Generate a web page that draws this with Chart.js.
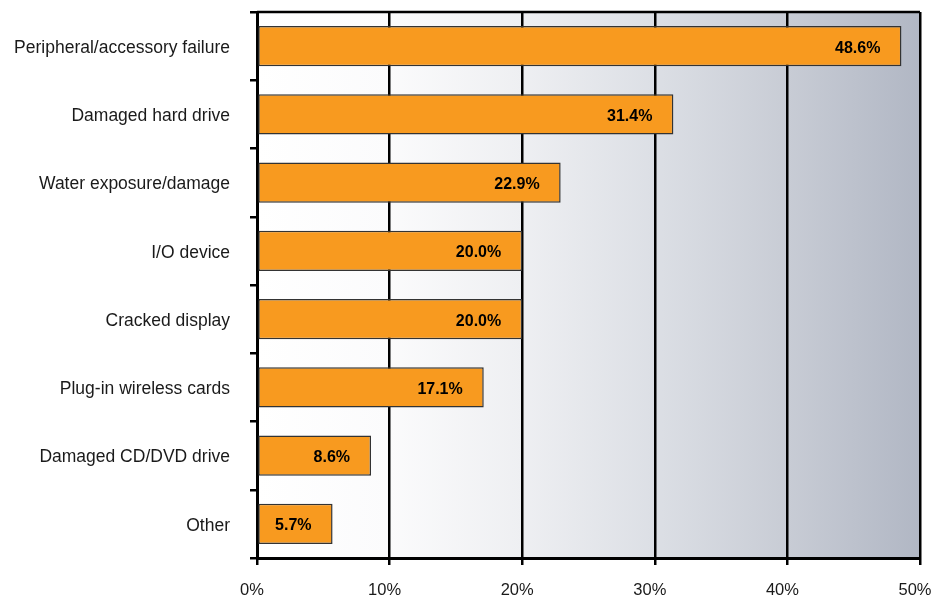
<!DOCTYPE html>
<html>
<head>
<meta charset="utf-8">
<script src="https://cdn.jsdelivr.net/npm/chart.js@4"></script>
<style>
  html, body { margin: 0; padding: 0; background: #fff; overflow: hidden; }
  #wrap { width: 933px; height: 596px; }
</style>
</head>
<body>
<div id="wrap"><canvas id="myChart"></canvas></div>
<script>
// kategorier og verdier lest av bildet
const categories = ['Peripheral/accessory failure', 'Damaged hard drive', 'Water exposure/damage', 'I/O device',
  'Cracked display', 'Plug-in wireless cards', 'Damaged CD/DVD drive', 'Other'];
const values = [48.6, 31.4, 22.9, 20.0, 20.0, 17.1, 8.6, 5.7];
const valueLabels = ['48.6%', '31.4%', '22.9%', '20.0%', '20.0%', '17.1%', '8.6%', '5.7%'];
const tickLabels = ['0%', '10%', '20%', '30%', '40%', '50%'];

const fontFam = '"Liberation Sans", Arial, sans-serif';

// gradient bak plottet, pluss ramme på toppen
const bgPlugin = {
  id: 'bg',
  beforeDraw(chart) {
    const { ctx, chartArea: a } = chart;
    const g = ctx.createLinearGradient(a.left, 0, a.right, 0);
    g.addColorStop(0, '#ffffff');
    g.addColorStop(0.2, '#fbfbfc');
    g.addColorStop(0.4, '#eeeff2');
    g.addColorStop(0.6, '#dcdfe5');
    g.addColorStop(0.8, '#c8ccd5');
    g.addColorStop(1, '#b1b7c4');
    ctx.save();
    ctx.fillStyle = g;
    ctx.fillRect(a.left, a.top, a.right - a.left, a.bottom - a.top);
    ctx.restore();
  },
  afterDraw(chart) {
    const { ctx, chartArea: a } = chart;
    ctx.save();
    ctx.strokeStyle = '#000';
    ctx.lineWidth = 2.5;
    ctx.beginPath();
    ctx.moveTo(a.left, a.top);
    ctx.lineTo(a.right, a.top);
    ctx.stroke();
    ctx.restore();
  }
};

// prosenttekst inne i enden av hver stolpe
const labelPlugin = {
  id: 'labels',
  afterDatasetsDraw(chart) {
    const { ctx } = chart;
    const meta = chart.getDatasetMeta(0);
    ctx.save();
    ctx.font = 'bold 16px ' + fontFam;
    ctx.fillStyle = '#000';
    ctx.textAlign = 'right';
    ctx.textBaseline = 'middle';
    meta.data.forEach((bar, i) => {
      ctx.fillText(valueLabels[i], bar.x - 21, bar.y + 2);
    });
    ctx.restore();
  }
};

Chart.defaults.font.family = fontFam;
Chart.defaults.font.size = 17.5;
Chart.defaults.color = '#1a1a1a';

new Chart(document.getElementById('myChart'), {
  type: 'bar',
  data: {
    labels: categories,
    datasets: [{
      data: values,
      backgroundColor: '#f89a1f',
      borderColor: '#333',
      borderWidth: 1.5,
      borderSkipped: false,
      barPercentage: 0.59,
      categoryPercentage: 1
    }]
  },
  options: {
    indexAxis: 'y',
    responsive: true,
    maintainAspectRatio: false,
    animation: false,
    layout: { padding: { top: 12, right: 13, left: 0, bottom: 0 } },
    plugins: { legend: { display: false }, tooltip: { enabled: false } },
    scales: {
      x: {
        min: 0,
        max: 50,
        ticks: {
          stepSize: 10,
          padding: 16,
          labelOffset: -5,
          font: { size: 16.5 },
          callback: (v, i) => tickLabels[i]
        },
        grid: { color: '#000', lineWidth: 2.5, tickLength: 7 },
        border: { color: '#000', width: 3 },
        afterFit(s) { s.height = 38; s.paddingLeft = 0; s.paddingRight = 0; }
      },
      y: {
        ticks: { padding: 20, labelOffset: 2 },
        grid: { offset: true, drawOnChartArea: false, color: '#000', lineWidth: 2.5, tickLength: 7 },
        border: { color: '#000', width: 3 },
        afterFit(s) { s.width = 257; s.paddingTop = 0; s.paddingBottom = 0; }
      }
    }
  },
  plugins: [bgPlugin, labelPlugin]
});
</script>
</body>
</html>
